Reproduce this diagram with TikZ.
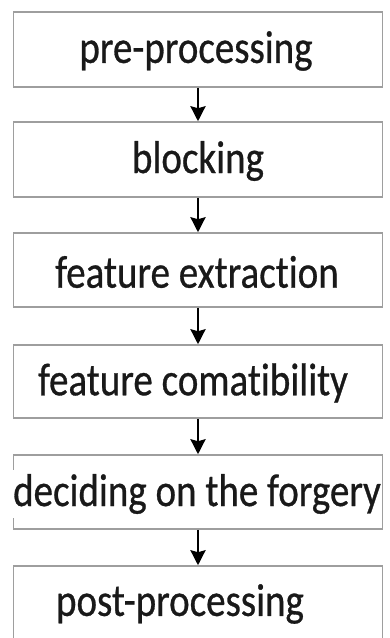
\documentclass[tikz,border=0pt]{standalone}
\usepackage{fontspec}
\setmainfont[RawFeature=-liga]{Carlito}
\newfontfamily\lblfont[RawFeature=-liga,FakeBold=0.7]{Carlito}
\usetikzlibrary{arrows.meta}
\begin{document}
\begin{tikzpicture}[x=1pt,y=-1pt,
  box/.style={draw=black!38,line width=1.5pt,minimum width=369pt,inner sep=0pt},
  lbl/.style={fill=white,inner xsep=1pt,inner ysep=4pt,font=\lblfont\fontsize{39}{39}\selectfont,text=black!90},
  arr/.style={line width=2.6pt,-{Stealth[length=15pt,width=15pt,inset=2pt]}}]
\useasboundingbox (0,0) rectangle (389,638);
\clip (0,0) rectangle (389,638);
\fill[white] (0,0) rectangle (389,638);
\node[box,minimum height=75pt] (b1) at (198,49.5) {};
\node[box,minimum height=75pt] (b2) at (198,159.5) {};
\node[box,minimum height=74pt] (b3) at (198,270) {};
\node[box,minimum height=73pt] (b4) at (198,381.5) {};
\node[box,minimum height=74pt] (b5) at (198,492) {};
\node[box,minimum height=76pt] (b6) at (198,604) {};
\node[lbl] (t1) at (196,51) {\scalebox{1}[1.18]{pre-processing}};
\node[lbl] (t2) at (198,161) {\scalebox{1}[1.18]{blocking}};
\node[lbl] (t3) at (197,272) {\scalebox{1}[1.18]{feature extraction}};
\node[lbl] (t4) at (193,383) {\scalebox{1}[1.18]{feature comatibility}};
\node[lbl] (t5) at (197,494) {\scalebox{1}[1.18]{deciding on the forgery}};
\node[lbl] (t6) at (180,604) {\scalebox{1}[1.18]{post-processing}};
\foreach \a/\b in {b1/b2,b2/b3,b3/b4,b4/b5,b5/b6}
  \draw[arr] (\a.south) -- (\b.north);
\end{tikzpicture}
\end{document}
